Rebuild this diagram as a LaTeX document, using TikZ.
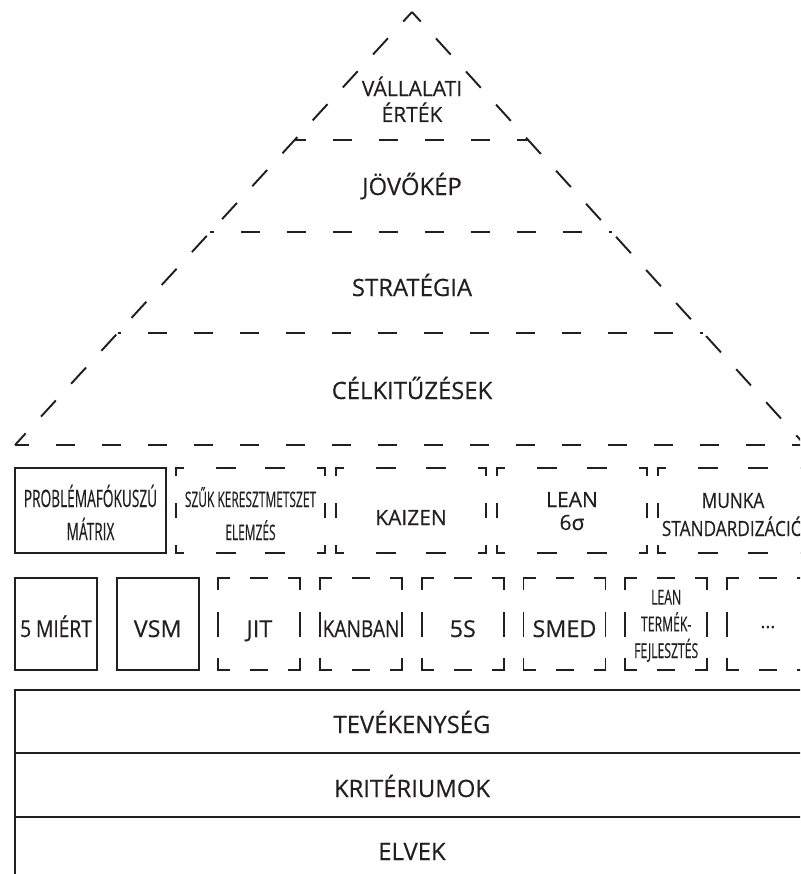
\documentclass[tikz,border=0pt]{standalone}
\usepackage{fontspec}
\setmainfont{Open Sans}[FakeBold=0.35]
\newfontfamily\condA{Open Sans}[FakeStretch=0.57,FakeBold=0.35]
\newfontfamily\condC{Open Sans}[FakeStretch=0.56,FakeBold=0.35]
\newfontfamily\condD{Open Sans}[FakeStretch=0.59,FakeBold=0.35]
\newfontfamily\condB{Open Sans}[FakeStretch=0.82,FakeBold=0.35]
\definecolor{ink}{HTML}{231F20}
\newcommand\fsz[2]{\fontsize{#1pt}{#2pt}\selectfont}
\tikzset{
  lbl/.style={anchor=base, align=center, inner sep=0pt, text=ink},
  solidline/.style={draw=ink, line width=1.45pt},
  diag/.style={draw=ink, line width=1.45pt, dash pattern=on 16.5pt off 17pt, dash phase=6.75pt},
  hdash/.style={draw=ink, line width=1.45pt, dash pattern=on 14.25pt off 20.25pt, dash phase=24.375pt},
  boxl/.style={draw=ink, line width=1.45pt, line cap=butt, line join=miter},
}
% #1 x1, #2 y1, #3 x2, #4 y2, #5 corner, #6 hdash, #7 vdash, #8 number of h dashes
\newcommand\dbox[8]{%
  \draw[boxl] (#1+#5,#2) -- (#1,#2) -- (#1,#2+#5);
  \draw[boxl] (#3-#5,#2) -- (#3,#2) -- (#3,#2+#5);
  \draw[boxl] (#1+#5,#4) -- (#1,#4) -- (#1,#4-#5);
  \draw[boxl] (#3-#5,#4) -- (#3,#4) -- (#3,#4-#5);
  \foreach \k in {1,...,#8}{
    \pgfmathsetmacro\cx{#1+(#3-#1)*\k/(#8+1)}
    \draw[boxl] (\cx-#6/2,#2) -- (\cx+#6/2,#2);
    \draw[boxl] (\cx-#6/2,#4) -- (\cx+#6/2,#4);
  }
  \pgfmathsetmacro\cy{(#2+#4)/2}
  \draw[boxl] (#1,\cy-#7/2) -- (#1,\cy+#7/2);
  \draw[boxl] (#3,\cy-#7/2) -- (#3,\cy+#7/2);
}
\begin{document}
\begin{tikzpicture}[x=0.75pt,y=-0.75pt]
\useasboundingbox (0,0) rectangle (800,874);
\clip (0,0) rectangle (800,874);
\fill[white] (0,0) rectangle (800,874);

% ---------- pyramid ----------
\coordinate (apex) at (412,12);
\coordinate (bl) at (15,445);
\coordinate (br) at (805,445);
\draw[diag] (apex) -- (bl);
\draw[diag] (apex) -- (br);

\coordinate (m1) at (411.4,140);
\coordinate (l1) at (294.6,140);
\coordinate (r1) at (528.2,140);
\coordinate (m2) at (411,232);
\coordinate (l2) at (210.3,232);
\coordinate (r2) at (611.7,232);
\coordinate (m3) at (410.5,333);
\coordinate (l3) at (117.7,333);
\coordinate (r3) at (703.3,333);
\coordinate (m4) at (410,445);
\draw[hdash] (m1) -- (l1); \draw[hdash] (m1) -- (r1);
\draw[hdash] (m2) -- (l2); \draw[hdash] (m2) -- (r2);
\draw[hdash] (m3) -- (l3); \draw[hdash] (m3) -- (r3);
\draw[hdash] (m4) -- (bl); \draw[hdash] (m4) -- (br);

\node[lbl, font=\fsz{15.75}{19.5}] (vall) at (412,122) {VÁLLALATI\\ÉRTÉK};
\node[lbl, font=\fsz{17.9}{20}] (jovo) at (412,195) {JÖVŐKÉP};
\node[lbl, font=\fsz{17.9}{20}] (strat) at (412,296) {STRATÉGIA};
\node[lbl, font=\fsz{17.9}{20}] (celk) at (412,399) {CÉLKITŰZÉSEK};

% ---------- row 1 ----------
\draw[solidline] (15,468) rectangle (166,553);
\dbox{176}{468}{325}{553}{8}{20}{15}{2}
\dbox{336}{468}{486}{553}{8}{20}{15}{2}
\dbox{497}{468}{647}{553}{8}{20}{15}{2}
\dbox{658}{468}{808}{553}{8}{20}{15}{2}

\node[lbl, font=\condA\fsz{18}{24.75}] (prob) at (90.5,540) {PROBLÉMAFÓKUSZÚ\\MÁTRIX};
\node[lbl, font=\condC\fsz{16}{24.75}] (szuk) at (250.5,540) {SZŰK KERESZTMETSZET\\ELEMZÉS};
\node[lbl, font=\fsz{15.75}{19}] (kaizen) at (411,525) {KAIZEN};
\node[lbl, font=\fsz{15.75}{17.25}] (lean) at (572,530) {LEAN\\6σ};
\node[lbl, font=\condB\fsz{15.75}{21}] (munka) at (733,536) {MUNKA\\STANDARDIZÁCIÓ};

% ---------- row 2 ----------
\draw[solidline] (15,578) rectangle (97,670);
\draw[solidline] (116.7,578) rectangle (198.7,670);
\dbox{218.4}{578}{300.4}{670}{12}{18}{25}{1}
\dbox{320.1}{578}{402.1}{670}{12}{18}{25}{1}
\dbox{421.8}{578}{503.8}{670}{12}{18}{25}{1}
\dbox{523.5}{578}{605.5}{670}{12}{18}{25}{1}
\dbox{625.2}{578}{707.2}{670}{12}{18}{25}{1}
\dbox{726.9}{578}{808.9}{670}{12}{18}{25}{1}

\node[lbl, font=\condB\fsz{17.5}{20}] (miert) at (56,637) {5 MIÉRT};
\node[lbl, font=\fsz{17.5}{20}] (vsm) at (157.7,637) {VSM};
\node[lbl, font=\fsz{17.5}{20}] (jit) at (259.4,637) {JIT};
\node[lbl, font=\condB\fsz{17.5}{20}] (kanban) at (361.1,637) {KANBAN};
\node[lbl, font=\fsz{17.5}{20}] (fives) at (462.8,637) {5S};
\node[lbl, font=\fsz{17.5}{20}] (smed) at (564.5,637) {SMED};
\node[lbl, font=\condD\fsz{15.5}{20}] (leantf) at (666.2,658) {LEAN\\TERMÉK-\\FEJLESZTÉS};
\node[lbl, font=\fsz{14}{17}] (dots) at (767.9,628) {...};

% ---------- bottom rows ----------
\draw[solidline] (15,890) -- (15,690) -- (830,690);
\draw[solidline] (15,753) -- (830,753);
\draw[solidline] (15,817) -- (830,817);
\node[lbl, font=\fsz{17.9}{20}] (tev) at (412,733) {TEVÉKENYSÉG};
\node[lbl, font=\fsz{17.9}{20}] (krit) at (412,797) {KRITÉRIUMOK};
\node[lbl, font=\fsz{17.9}{20}] (elvek) at (412,860) {ELVEK};
\end{tikzpicture}
\end{document}
